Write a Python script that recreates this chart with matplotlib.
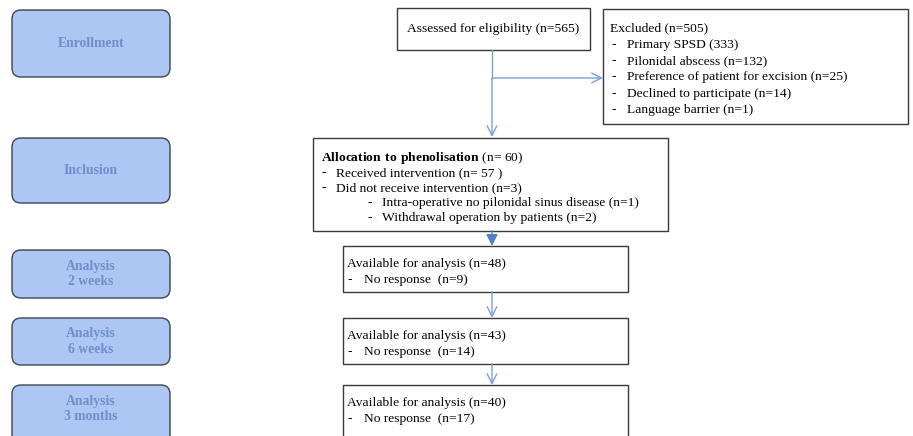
import matplotlib
matplotlib.use("Agg")
import matplotlib.pyplot as plt
from matplotlib.patches import FancyBboxPatch, Rectangle

plt.rcParams['font.family'] = ['Liberation Serif', 'DejaVu Serif']
plt.rcParams['mathtext.fontset'] = 'custom'
plt.rcParams['mathtext.rm'] = 'Liberation Serif'
plt.rcParams['mathtext.bf'] = 'Liberation Serif:bold'

# content of the flow chart
stages = ['Enrollment', 'Inclusion', 'Analysis\n2 weeks', 'Analysis\n6 weeks', 'Analysis\n3 months']
assessed_n = 565
excluded_n = 505
excluded_reasons = ['Primary SPSD (333)', 'Pilonidal abscess (n=132)',
                    'Preference of patient for excision (n=25)',
                    'Declined to participate (n=14)', 'Language barrier (n=1)']
allocated_n = 60
received_n = 57
not_received_n = 3
not_received_reasons = ['Intra-operative no pilonidal sinus disease (n=1)',
                        'Withdrawal operation by patients (n=2)']
available_n = [48, 43, 40]
no_response_n = [9, 14, 17]

STAGE_FILL = '#adc6f4'
STAGE_EDGE = '#3f4550'
STAGE_TEXT = '#6f8fc9'
ARROW = '#7c9fd6'
ARROW_DARK = '#4f7fc6'
BOX_EDGE = '#3a3a3a'
FS = 9.7

fig = plt.figure(figsize=(9.13, 4.36), dpi=100)
ax = fig.add_axes([0, 0, 1, 1])
ax.set_xlim(0, 913)
ax.set_ylim(436, 0)
ax.axis('off')

# left stage boxes
stage_boxes = [(10, 77), (138, 203), (250, 298), (318, 365), (385, 445)]
for label, (y0, y1) in zip(stages, stage_boxes):
    ax.add_patch(FancyBboxPatch((12, y0), 158, y1 - y0,
                                boxstyle='round,pad=0,rounding_size=9',
                                fc=STAGE_FILL, ec=STAGE_EDGE, lw=1.0))
    ty = (y0 + y1) / 2 if y1 < 436 else 409
    ax.text(91, ty, label, ha='center', va='center', fontsize=9.8,
            fontweight='bold', color=STAGE_TEXT, linespacing=1.22)


def box(x0, y0, x1, y1):
    ax.add_patch(Rectangle((x0, y0), x1 - x0, y1 - y0, fc='white',
                           ec=BOX_EDGE, lw=1.0))


def arrow(x0, y0, x1, y1, style='->', color=ARROW):
    ax.annotate('', xy=(x1, y1), xytext=(x0, y0),
                arrowprops=dict(arrowstyle=style + ',head_length=0.7,head_width=0.35',
                                color=color, lw=1.0, shrinkA=0, shrinkB=0))


# assessed
box(397, 8, 590, 50)
ax.text(493, 29, f'Assessed for eligibility (n={assessed_n})', ha='center',
        va='center', fontsize=FS)

# excluded
box(603, 9, 908, 124)
ax.text(610, 28, f'Excluded (n={excluded_n})', va='center', fontsize=FS)
for i, r in enumerate(excluded_reasons):
    y = 45 + i * 16.2
    ax.text(612, y, '-', va='center', fontsize=FS)
    ax.text(627, y, r, va='center', fontsize=FS)

# arrows from assessed
ax.plot([492, 492], [50, 78], color=ARROW, lw=1.0)
arrow(492, 78, 603, 78)
arrow(492, 78, 492, 137)

# allocation
box(313, 138, 668, 231)
ax.text(321, 158, r'$\mathbf{Allocation\ to\ phenolisation}\ $' + f'(n= {allocated_n})',
        va='center', fontsize=FS)
alloc_lines = [(321, 336, f'Received intervention (n= {received_n} )'),
               (321, 336, f'Did not receive intervention (n={not_received_n})')]
alloc_lines += [(367, 382, r) for r in not_received_reasons]
for i, (xd, xt, s) in enumerate(alloc_lines):
    y = 173 + i * 15
    ax.text(xd, y, '-', va='center', fontsize=FS)
    ax.text(xt, y, s, va='center', fontsize=FS)

arrow(492, 231, 492, 246, style='-|>', color=ARROW_DARK)

# follow-up boxes
follow_boxes = [(246, 292), (318, 364), (385, 445)]
for k, ((y0, y1), a, nr) in enumerate(zip(follow_boxes, available_n, no_response_n)):
    box(343, y0, 628, y1)
    ax.text(347, y0 + 18, f'Available for analysis (n={a})', va='center', fontsize=FS)
    ax.text(348, y0 + 34, '-', va='center', fontsize=FS)
    ax.text(364, y0 + 34, f'No response  (n={nr})', va='center', fontsize=FS)
    if k < len(follow_boxes) - 1:
        arrow(492, y1, 492, follow_boxes[k + 1][0])

fig.savefig('out.png', dpi=100)
